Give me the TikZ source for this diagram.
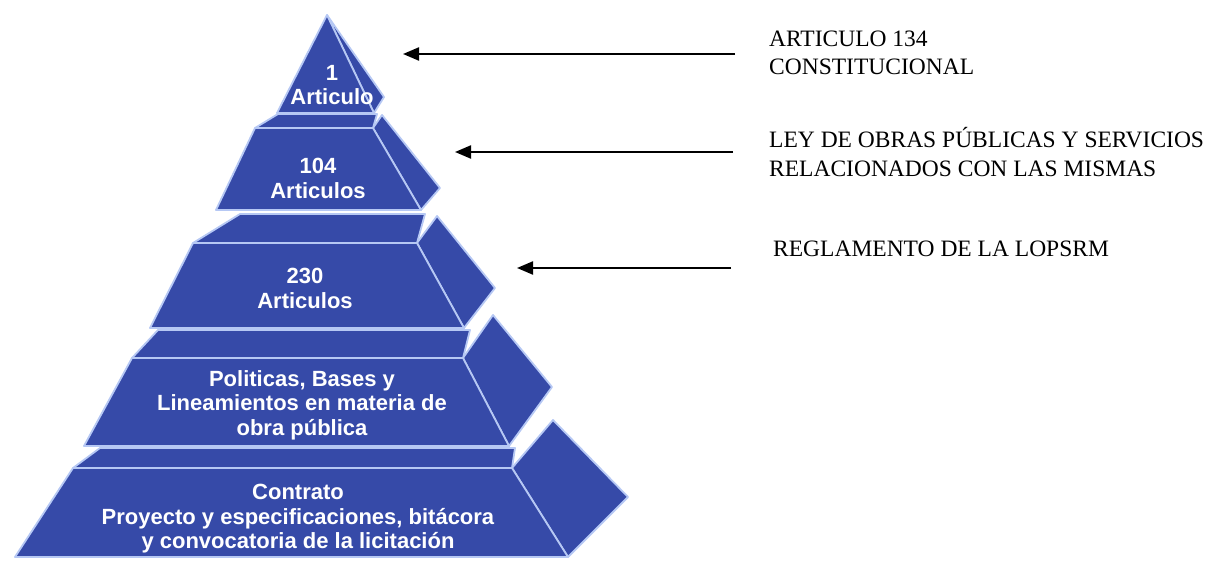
\documentclass[tikz,border=0pt]{standalone}
\usepackage{fontspec}
\setmainfont{Liberation Serif}
\newfontfamily\pyrfont{Liberation Sans}
\usetikzlibrary{arrows.meta}
\definecolor{pyrblue}{RGB}{54,74,168}
\definecolor{pyredge}{RGB}{182,200,244}
\begin{document}
\begin{tikzpicture}[x=1bp,y=-1bp,
  face/.style={fill=pyrblue,draw=pyredge,line width=1.8bp,line join=round},
  ptext/.style={text=white,font=\pyrfont\bfseries\fontsize{22bp}{24.5bp}\selectfont,align=center,inner sep=0pt},
  ltext/.style={font=\fontsize{23.5bp}{28bp}\selectfont,anchor=base west,inner sep=0pt},
  pointer/.style={line width=2.2bp,-{Triangle[length=16bp,width=13bp]}}]
\useasboundingbox (0,0) rectangle (1232,561);
% level 5
\draw[face] (512,468) -- (553,420) -- (628,497) -- (568,557) -- cycle;
\draw[face] (100,448) -- (515,448) -- (512,468) -- (73,468) -- cycle;
\draw[face] (73,468) -- (512,468) -- (568,557) -- (15,557) -- cycle;
% level 4
\draw[face] (463,358) -- (493,315) -- (552,387) -- (509,446) -- cycle;
\draw[face] (158,330) -- (470,330) -- (463,358) -- (132,358) -- cycle;
\draw[face] (132,358) -- (463,358) -- (509,446) -- (84,446) -- cycle;
% level 3
\draw[face] (417,243) -- (437,216) -- (495,288) -- (464,328) -- cycle;
\draw[face] (240,214) -- (425,214) -- (417,243) -- (193,243) -- cycle;
\draw[face] (193,243) -- (417,243) -- (464,328) -- (150,328) -- cycle;
% level 2
\draw[face] (373,128) -- (382,115) -- (440,188) -- (421,210) -- cycle;
\draw[face] (278,114) -- (377,114) -- (373,128) -- (255,128) -- cycle;
\draw[face] (255,128) -- (373,128) -- (421,210) -- (216,210) -- cycle;
% level 1
\draw[face] (327,15) -- (384,97) -- (374,113) -- cycle;
\draw[face] (327,15) -- (374,113) -- (277,113) -- cycle;
% pyramid texts
\node[ptext] (p1) at (332,85) {1\\Articulo};
\node[ptext] (p2) at (318,178.5) {104\\Articulos};
\node[ptext] (p3) at (305,288.5) {230\\Articulos};
\node[ptext] (p4) at (302,405) {Politicas, Bases y\\Lineamientos en materia de\\obra pública};
\node[ptext] (p5) at (298,519) {Contrato\\Proyecto y especificaciones, bitácora\\y convocatoria de la licitación};
% labels
\node[ltext] (l1a) at (769,47) {ARTICULO 134};
\node[ltext] (l1b) at (769,75) {CONSTITUCIONAL};
\node[ltext] (l2a) at (769,148) {LEY DE OBRAS PÚBLICAS Y SERVICIOS};
\node[ltext] (l2b) at (769,177) {RELACIONADOS CON LAS MISMAS};
\node[ltext] (l3a) at (773,257) {REGLAMENTO DE LA LOPSRM};
% arrows
\coordinate (s1) at (735,54);  \coordinate (t1) at (403,54);
\coordinate (s2) at (733,152); \coordinate (t2) at (455,152);
\coordinate (s3) at (731,268); \coordinate (t3) at (517,268);
\draw[pointer] (s1) -- (t1);
\draw[pointer] (s2) -- (t2);
\draw[pointer] (s3) -- (t3);
\end{tikzpicture}
\end{document}
